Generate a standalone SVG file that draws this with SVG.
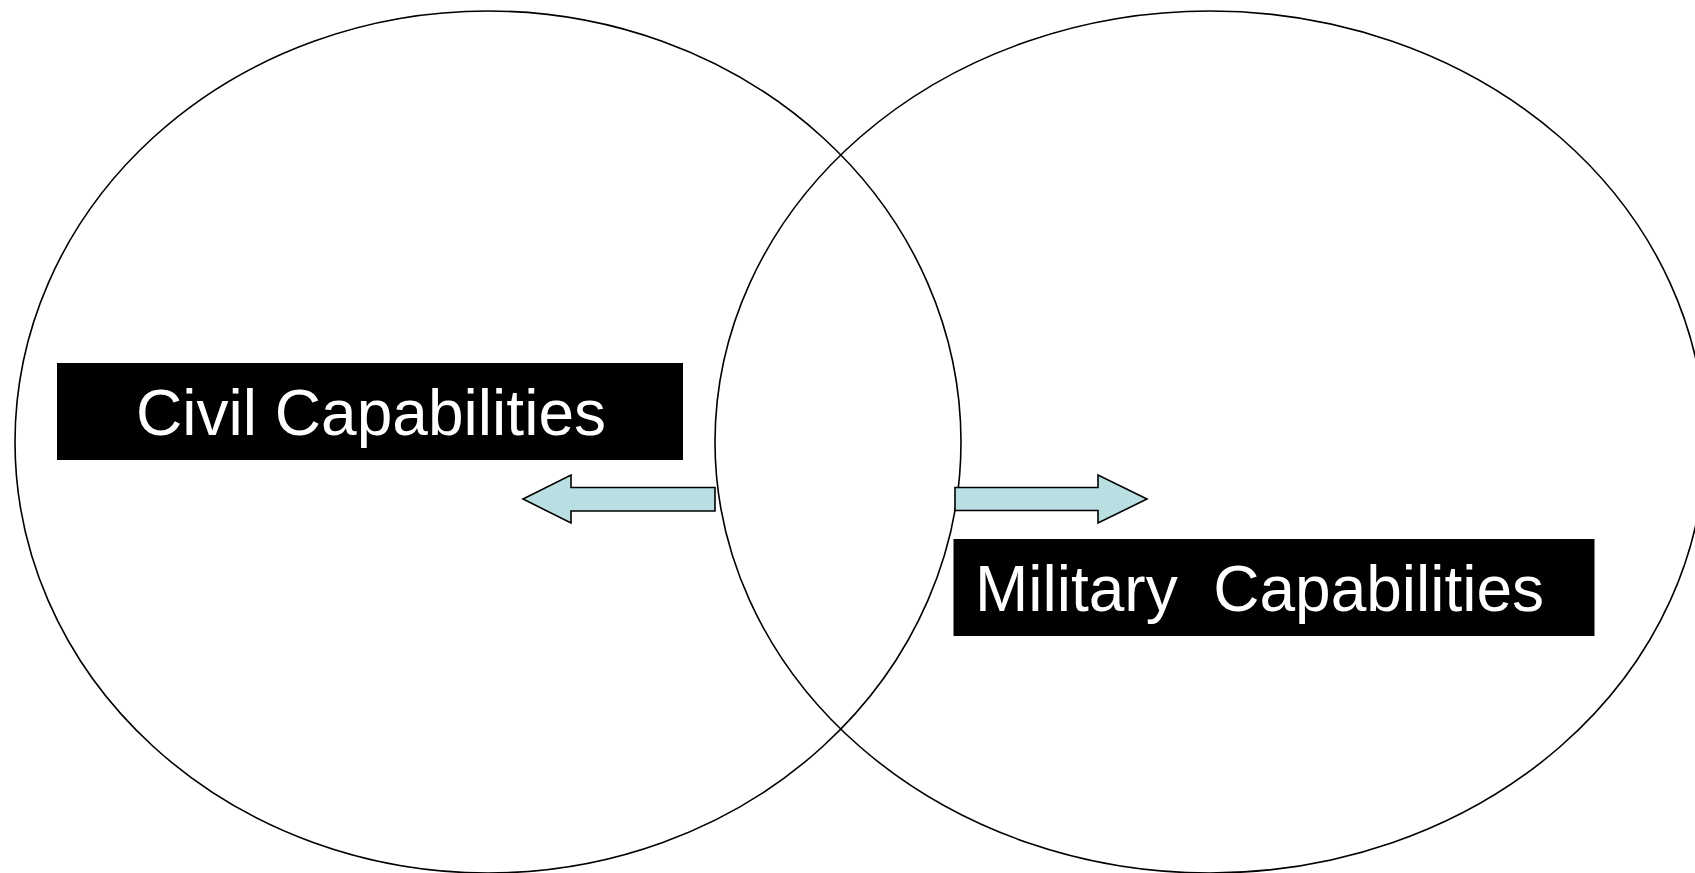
<svg xmlns="http://www.w3.org/2000/svg" width="1695" height="873" viewBox="0 0 1695 873">
<style>
.ell{fill:none;stroke:#000;stroke-width:1.6}
.box{fill:#000}
.lbl{fill:#fff;font-family:"Liberation Sans",Arial,sans-serif;font-size:64px}
.arr{fill:#B9DFE2;stroke:#000;stroke-width:1.6;stroke-linejoin:miter}
</style>
<rect width="1695" height="873" fill="#fff"/>
<g id="civil-circle"><ellipse class="ell" cx="488" cy="442" rx="473" ry="431"/></g>
<g id="military-circle"><ellipse class="ell" cx="1210" cy="442" rx="495" ry="431"/></g>
<g id="connectors">
<polygon class="arr" points="715,487.5 571,487.5 571,475 523,499 571,523 571,511 715,511"/>
<polygon class="arr" points="955,487.5 1098,487.5 1098,475 1147,499 1098,523 1098,510.5 955,510.5"/>
</g>
<g id="civil-label">
<rect class="box" x="57" y="363" width="626" height="97"/>
<text class="lbl" x="136" y="435" textLength="470">Civil Capabilities</text>
</g>
<g id="military-label">
<rect class="box" x="953.5" y="539" width="641" height="97"/>
<text class="lbl" x="975" y="611" xml:space="preserve">Military  Capabilities</text>
</g>
</svg>
